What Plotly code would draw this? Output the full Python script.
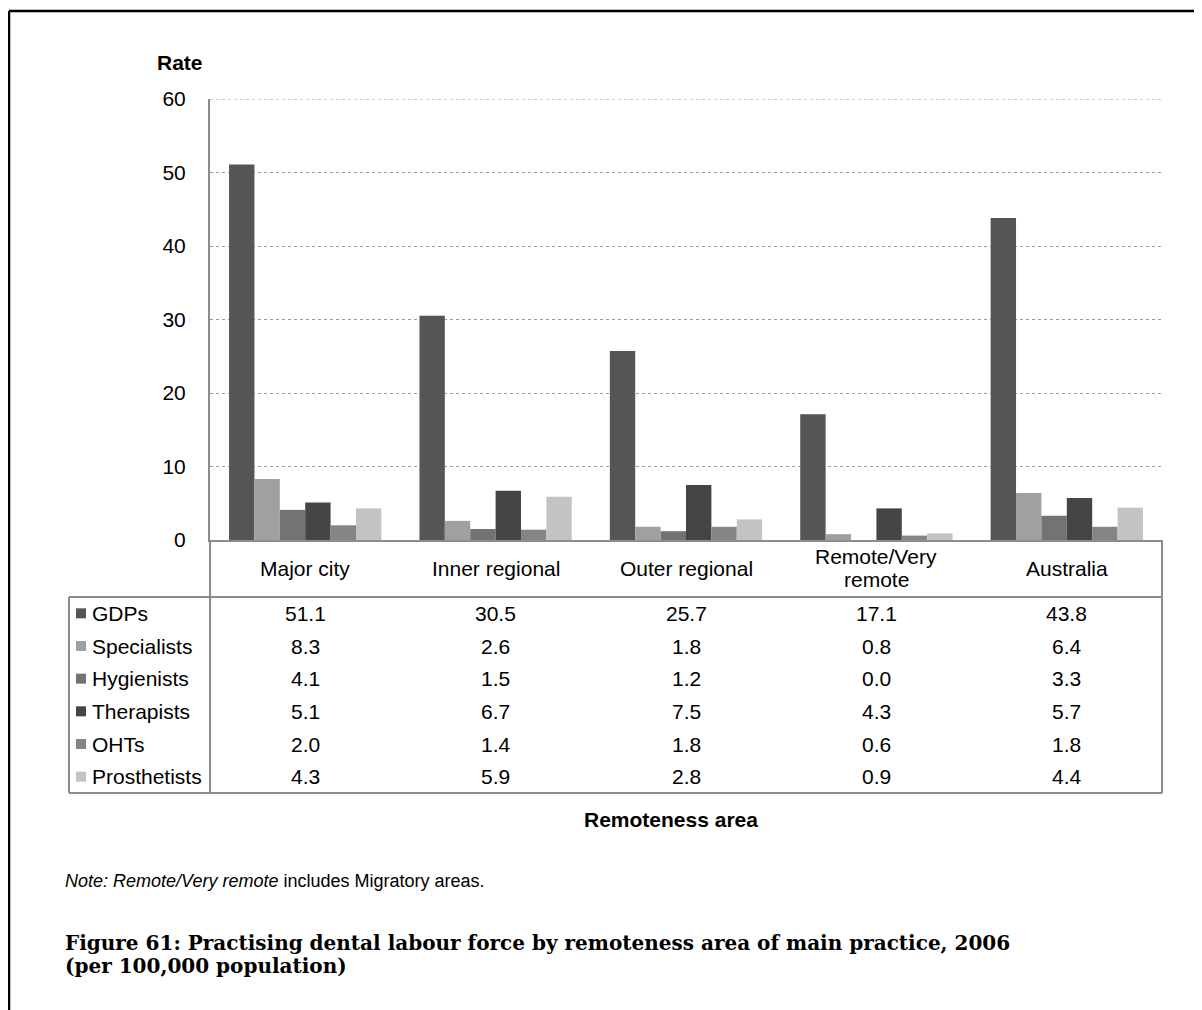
import plotly.graph_objects as go

# ---------------- data ----------------
categories = ["Major city", "Inner regional", "Outer regional", "Remote/Very remote", "Australia"]
category_labels = ["Major city", "Inner regional", "Outer regional", "Remote/Very<br>remote", "Australia"]
series_names = ["GDPs", "Specialists", "Hygienists", "Therapists", "OHTs", "Prosthetists"]
gdps = [51.1, 30.5, 25.7, 17.1, 43.8]
specialists = [8.3, 2.6, 1.8, 0.8, 6.4]
hygienists = [4.1, 1.5, 1.2, 0.0, 3.3]
therapists = [5.1, 6.7, 7.5, 4.3, 5.7]
ohts = [2.0, 1.4, 1.8, 0.6, 1.8]
prosthetists = [4.3, 5.9, 2.8, 0.9, 4.4]
series_values = [gdps, specialists, hygienists, therapists, ohts, prosthetists]
y_ticks = [0, 10, 20, 30, 40, 50, 60]
title_lines = ["Figure 61: Practising dental labour force by remoteness area of main practice, 2006",
               "(per 100,000 population)"]

# ---------------- style ----------------
colors = ["#555555", "#a0a0a0", "#737373", "#454545", "#858585", "#c3c3c3"]
OFF = 8  # page body margin
W, H = 1202 - OFF, 1010 - OFF
L, R, T, B = 210, 1162, 99, 540  # plot area in page pixels
FONT = "Liberation Sans, Arial, sans-serif"
GRAY = "#8c8c8c"
FS = 21


def px(x):
    return (x - L) / (R - L)


def py(y):
    return (B - y) / (B - T)


fig = go.Figure()
for name, vals, col in zip(series_names, series_values, colors):
    fig.add_trace(go.Bar(x=categories, y=vals, name=name,
                         marker=dict(color=col, line=dict(width=0))))

shapes = []
annotations = []

# top gridline (at range edge)
shapes.append(dict(type="line", xref="paper", yref="y", x0=0, x1=1, y0=max(y_ticks), y1=max(y_ticks),
                   line=dict(color="#9a9a9a", width=1, dash="dot")))

# table lines
line = dict(color=GRAY, width=2)
table_top, table_bottom = 597, 793
shapes.append(dict(type="line", xref="paper", yref="paper", x0=px(L), x1=px(L), y0=py(B), y1=py(table_bottom), line=line))
shapes.append(dict(type="line", xref="paper", yref="paper", x0=px(R), x1=px(R), y0=py(B), y1=py(table_bottom), line=line))
shapes.append(dict(type="line", xref="paper", yref="paper", x0=px(69), x1=px(69), y0=py(table_top), y1=py(table_bottom), line=line))
shapes.append(dict(type="line", xref="paper", yref="paper", x0=px(69), x1=px(R), y0=py(table_top), y1=py(table_top), line=line))
shapes.append(dict(type="line", xref="paper", yref="paper", x0=px(69), x1=px(R), y0=py(table_bottom), y1=py(table_bottom), line=line))

# outer frame (left and top black lines)
frame = dict(color="black", width=2.5)
shapes.append(dict(type="line", xref="paper", yref="paper", x0=px(9), x1=px(9), y0=py(11), y1=py(1015), line=frame))
shapes.append(dict(type="line", xref="paper", yref="paper", x0=px(9), x1=px(1210), y0=py(11), y1=py(11), line=frame))

# category header labels
for cat, lab in zip(categories, category_labels):
    parts = lab.split("<br>")
    n = len(parts)
    for k, part in enumerate(parts):
        yc = 568 + (k - (n - 1) / 2) * 23
        annotations.append(dict(x=cat, xref="x", y=py(yc), yref="paper", text=part, showarrow=False,
                                xanchor="center", yanchor="middle", font=dict(family=FONT, size=FS, color="black")))

# table rows
row_h = (table_bottom - table_top) / len(series_names)
for i, (name, vals, col) in enumerate(zip(series_names, series_values, colors)):
    yc = table_top + row_h * (i + 0.5)
    shapes.append(dict(type="rect", xref="paper", yref="paper", x0=px(76), x1=px(86), y0=py(yc - 5), y1=py(yc + 5),
                       fillcolor=col, line=dict(width=0)))
    annotations.append(dict(x=px(90), xref="paper", y=py(yc), yref="paper", text=name, showarrow=False,
                            xanchor="left", yanchor="middle", font=dict(family=FONT, size=FS, color="black")))
    for cat, v in zip(categories, vals):
        annotations.append(dict(x=cat, xref="x", y=py(yc), yref="paper", text=f"{v:.1f}", showarrow=False,
                                xanchor="center", yanchor="middle", font=dict(family=FONT, size=FS, color="black")))

# axis titles, note, figure title
annotations.append(dict(x=px(180), xref="paper", y=py(63), yref="paper", text="<b>Rate</b>", showarrow=False,
                        xanchor="center", yanchor="middle", font=dict(family=FONT, size=FS, color="black")))
annotations.append(dict(x=px(671), xref="paper", y=py(819), yref="paper", text="<b>Remoteness area</b>", showarrow=False,
                        xanchor="center", yanchor="middle", font=dict(family=FONT, size=FS, color="black")))
annotations.append(dict(x=px(63), xref="paper", y=py(881), yref="paper",
                        text="<i>Note: Remote/Very remote</i> includes Migratory areas.", showarrow=False,
                        xanchor="left", yanchor="middle", font=dict(family=FONT, size=18, color="black")))
for k, tl in enumerate(title_lines):
    annotations.append(dict(x=px(63), xref="paper", y=py(943 + 23 * k), yref="paper",
                            text=f"<b>{tl}</b>", showarrow=False, xanchor="left", yanchor="middle", align="left",
                            font=dict(family="DejaVu Serif, serif", size=20, color="black")))

fig.update_layout(
    width=W, height=H,
    margin=dict(l=L - OFF, r=1202 - R, t=T - OFF, b=1010 - B, pad=0),
    paper_bgcolor="white", plot_bgcolor="white",
    barmode="group", bargap=0.2, bargroupgap=0,
    showlegend=False,
    shapes=shapes, annotations=annotations,
    xaxis=dict(showticklabels=False, ticks="", showgrid=False, showline=True, linecolor=GRAY, linewidth=2,
               zeroline=False),
    yaxis=dict(range=[0, 60], tickvals=y_ticks, showgrid=True, gridcolor="#9a9a9a", griddash="dot", gridwidth=1,
               showline=True, linecolor=GRAY, linewidth=2, zeroline=False, ticks="", ticklabelstandoff=18,
               tickfont=dict(family=FONT, size=FS, color="black")),
)

fig.write_html("out.html")
